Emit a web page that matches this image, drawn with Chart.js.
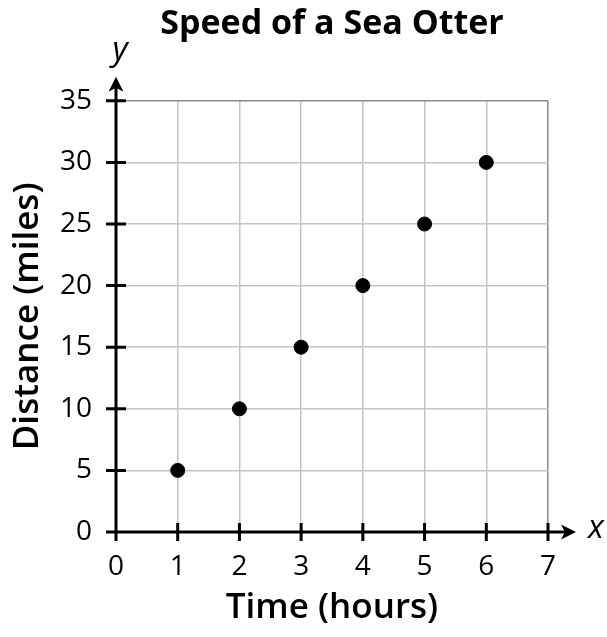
<!DOCTYPE html>
<html>
<head>
<meta charset="utf-8">
<script src="https://cdn.jsdelivr.net/npm/chart.js@4.4.1/dist/chart.umd.min.js"></script>
<style>
  html, body { margin: 0; padding: 0; background: #fff; }
  #wrap { width: 607px; height: 637px; }
</style>
</head>
<body>
<div id="wrap"><canvas id="otterChart"></canvas></div>
<script>
// Data
const hours = [1, 2, 3, 4, 5, 6];
const miles = [5, 10, 15, 20, 25, 30];
const xTicks = [0, 1, 2, 3, 4, 5, 6, 7];
const yTicks = [0, 5, 10, 15, 20, 25, 30, 35];

const FONT = "'Open Sans', 'DejaVu Sans', sans-serif";

// Black axes with arrows, cross ticks and the x / y letters
const axisArrows = {
    id: 'axisArrows',
    afterDraw(chart) {
        const { ctx, scales: { x, y } } = chart;
        const x0 = x.getPixelForValue(0);
        const y0 = y.getPixelForValue(0);
        const xEnd = x.getPixelForValue(xTicks[xTicks.length - 1]);
        const yEnd = y.getPixelForValue(yTicks[yTicks.length - 1]);

        ctx.save();
        ctx.strokeStyle = '#000';
        ctx.fillStyle = '#000';
        ctx.lineWidth = 3;
        ctx.beginPath();
        ctx.moveTo(x0 - 10, y0);
        ctx.lineTo(xEnd + 20, y0);
        ctx.moveTo(x0, y0 + 9);
        ctx.lineTo(x0, yEnd - 14);
        xTicks.forEach(v => {
            const px = x.getPixelForValue(v);
            ctx.moveTo(px, y0 - 9);
            ctx.lineTo(px, y0 + 9);
        });
        yTicks.forEach(v => {
            const py = y.getPixelForValue(v);
            ctx.moveTo(x0 - 10, py);
            ctx.lineTo(x0 + 10, py);
        });
        ctx.stroke();

        // arrowheads
        const tipX = xEnd + 28;
        ctx.beginPath();
        ctx.moveTo(tipX, y0);
        ctx.lineTo(tipX - 15, y0 - 7.5);
        ctx.lineTo(tipX - 11, y0);
        ctx.lineTo(tipX - 15, y0 + 7.5);
        ctx.closePath();
        ctx.fill();

        const tipY = yEnd - 24;
        ctx.beginPath();
        ctx.moveTo(x0, tipY);
        ctx.lineTo(x0 - 7.5, tipY + 15);
        ctx.lineTo(x0, tipY + 11);
        ctx.lineTo(x0 + 7.5, tipY + 15);
        ctx.closePath();
        ctx.fill();

        ctx.font = 'italic 33px ' + FONT;
        ctx.textAlign = 'center';
        ctx.textBaseline = 'middle';
        ctx.fillText('x', tipX + 20, y0 - 3);
        ctx.fillText('y', x0 + 4, tipY - 26);
        ctx.restore();
    }
};

const gridColor = (ctx, last) =>
    ctx.tick && ctx.tick.value === last ? '#8a8a8a' : '#c4c4c4';

const ctx = document.getElementById('otterChart').getContext('2d');
const otterChart = new Chart(ctx, {
    type: 'scatter',
    data: {
        datasets: [{
            label: 'Speed of a Sea Otter',
            data: hours.map((h, i) => ({ x: h, y: miles[i] })),
            backgroundColor: '#000',
            borderColor: '#000',
            pointRadius: 7,
            pointHoverRadius: 7
        }]
    },
    options: {
        responsive: true,
        maintainAspectRatio: false,
        animation: false,
        layout: {
            padding: { left: 0, right: 59, top: 0, bottom: 0 }
        },
        plugins: {
            legend: { display: false },
            tooltip: { enabled: false },
            title: {
                display: true,
                text: 'Speed of a Sea Otter',
                fullSize: false,
                color: '#000',
                font: { family: FONT, size: 34, weight: 'bold', lineHeight: 1.2 },
                padding: { top: 4, bottom: 56 }
            }
        },
        scales: {
            x: {
                type: 'linear',
                min: 0,
                max: 7,
                afterFit: s => { s.height = 105; },
                border: { display: false },
                grid: {
                    drawTicks: false,
                    lineWidth: 1.5,
                    color: c => gridColor(c, 7)
                },
                ticks: {
                    stepSize: 1,
                    padding: 18,
                    color: '#000',
                    font: { family: FONT, size: 28, weight: '500' }
                },
                title: {
                    display: true,
                    text: 'Time (hours)',
                    color: '#000',
                    font: { family: FONT, size: 35, weight: '600' },
                    padding: { top: 0, bottom: 8 }
                }
            },
            y: {
                type: 'linear',
                min: 0,
                max: 35,
                afterFit: s => { s.width = 116; },
                border: { display: false },
                grid: {
                    drawTicks: false,
                    lineWidth: 1.5,
                    color: c => gridColor(c, 35)
                },
                ticks: {
                    stepSize: 5,
                    padding: 24,
                    color: '#000',
                    font: { family: FONT, size: 28, weight: '500' }
                },
                title: {
                    display: true,
                    text: 'Distance (miles)',
                    color: '#000',
                    font: { family: FONT, size: 35, weight: '600' },
                    padding: { top: 7, bottom: 0 }
                }
            }
        }
    },
    plugins: [axisArrows]
});
</script>
</body>
</html>
